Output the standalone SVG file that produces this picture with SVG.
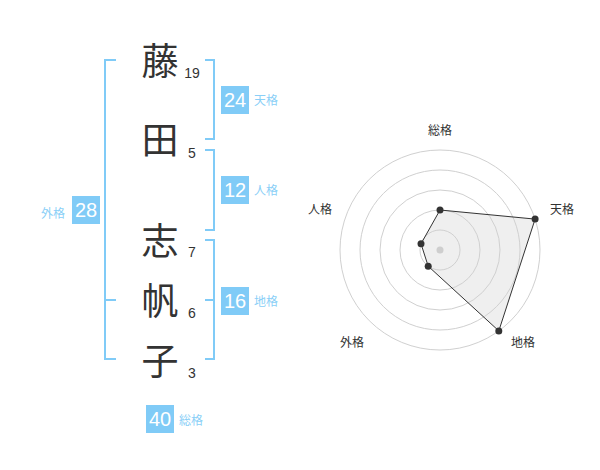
<svg xmlns="http://www.w3.org/2000/svg" width="600" height="470" viewBox="0 0 600 470">
<style>
.kanji{font-family:"Noto Sans CJK JP","Noto Sans CJK SC",sans-serif;font-size:37px;fill:#333;text-anchor:middle}
.num{font-family:"Liberation Sans",Arial,sans-serif;font-size:14px;fill:#333;text-anchor:middle}
.br{fill:none;stroke:#80cbf7;stroke-width:2}
.box{fill:#80cbf7}
.bv{font-family:"Liberation Sans",Arial,sans-serif;font-size:20px;fill:#fff;text-anchor:middle}
.bl{font-family:"Noto Sans CJK JP",sans-serif;font-size:12px;fill:#8acff7}
.ring{fill:none;stroke:#d0d0d0;stroke-width:1}
.rl{font-family:"Noto Sans CJK JP",sans-serif;font-size:12px;fill:#333;text-anchor:middle}
.pt{fill:#333}
</style>
<rect width="600" height="470" fill="#fff"/>
<g id="chars">
<text class="kanji" x="160" y="74.5">藤</text>
<text class="kanji" x="160" y="154">田</text>
<text class="kanji" x="160" y="255">志</text>
<text class="kanji" x="160" y="315">帆</text>
<text class="kanji" x="160" y="375">子</text>
<text class="num" x="192" y="78">19</text>
<text class="num" x="192" y="158">5</text>
<text class="num" x="192" y="257">7</text>
<text class="num" x="192" y="318">6</text>
<text class="num" x="192" y="378">3</text>
</g>
<g id="connectors">
<path class="br" d="M116,60 H105 V359 H116 M105,300 H116"/>
<path class="br" d="M205,60 H214 V139 H205"/>
<path class="br" d="M205,150 H214 V230 H205"/>
<path class="br" d="M205,240 H214 V359 H205 M205,300 H214"/>
</g>
<g id="tenkaku">
<rect class="box" x="221" y="86" width="28" height="28"/>
<text class="bv" x="235" y="107">24</text>
<text class="bl" x="254" y="105">天格</text>
</g>
<g id="jinkaku">
<rect class="box" x="221" y="176" width="28" height="28"/>
<text class="bv" x="235" y="197">12</text>
<text class="bl" x="254" y="195">人格</text>
</g>
<g id="gaikaku">
<rect class="box" x="72" y="196" width="28" height="28"/>
<text class="bv" x="86" y="217">28</text>
<text class="bl" x="41" y="218">外格</text>
</g>
<g id="chikaku">
<rect class="box" x="221" y="287" width="28" height="28"/>
<text class="bv" x="235" y="308">16</text>
<text class="bl" x="254" y="306">地格</text>
</g>
<g id="soukaku">
<rect class="box" x="146" y="405" width="28" height="28"/>
<text class="bv" x="160" y="426">40</text>
<text class="bl" x="179" y="425">総格</text>
</g>
<g id="radar">
<circle class="ring" cx="440" cy="250" r="20"/>
<circle class="ring" cx="440" cy="250" r="40"/>
<circle class="ring" cx="440" cy="250" r="60"/>
<circle class="ring" cx="440" cy="250" r="80"/>
<circle class="ring" cx="440" cy="250" r="100"/>
<circle cx="440" cy="250" r="3.5" fill="#cccccc"/>
<polygon points="440,210 535.1,219.1 498.8,330.9 428.2,266.2 421,243.8" fill="rgba(210,210,210,0.35)" stroke="#333" stroke-width="1"/>
<circle class="pt" cx="440" cy="210" r="3.5"/>
<circle class="pt" cx="535.1" cy="219.1" r="3.5"/>
<circle class="pt" cx="498.8" cy="330.9" r="3.5"/>
<circle class="pt" cx="428.2" cy="266.2" r="3.5"/>
<circle class="pt" cx="421" cy="243.8" r="3.5"/>
<text class="rl" x="440" y="135">総格</text>
<text class="rl" x="562" y="214">天格</text>
<text class="rl" x="523" y="347">地格</text>
<text class="rl" x="352" y="347">外格</text>
<text class="rl" x="320" y="214">人格</text>
</g>
</svg>
